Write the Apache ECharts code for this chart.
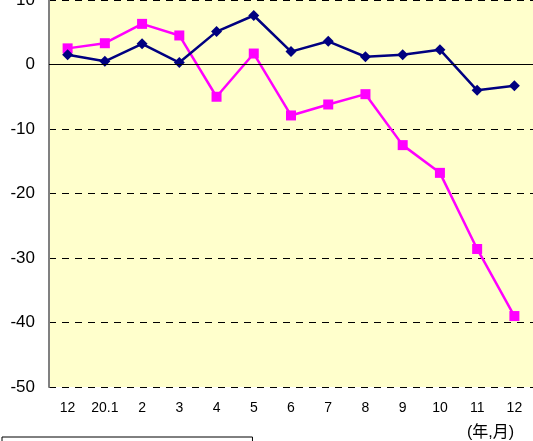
<!DOCTYPE html>
<html><head><meta charset="utf-8">
<script src="https://cdn.jsdelivr.net/npm/echarts@6/dist/echarts.min.js"></script>
<style>html,body{margin:0;padding:0;background:#fff}#c{width:533px;height:441px}</style>
</head><body><div id="c"></div>
<script>
const categories = ['12','20.1','2','3','4','5','6','7','8','9','10','11','12'];
const seriesNavy = [1.5, 0.5, 3.2, 0.3, 5.1, 7.6, 2.0, 3.6, 1.2, 1.5, 2.3, -4.0, -3.3];
const seriesMagenta = [2.5, 3.3, 6.3, 4.5, -5.0, 1.7, -7.9, -6.2, -4.6, -12.5, -16.8, -28.6, -39.0];
const yTicks = {min: -50, max: 10, interval: 10};

const chart = echarts.init(document.getElementById('c'), null, {renderer: 'canvas'});
chart.setOption({
  animation: false,
  backgroundColor: '#ffffff',
  textStyle: {fontFamily: 'Liberation Sans, Arial, sans-serif'},
  title: {
    text: '(年,月)', left: 462, top: 420,
    textStyle: {fontSize: 16, fontWeight: 'normal', color: '#000', fontFamily: 'Liberation Sans, Noto Sans CJK JP, sans-serif'}
  },
  legend: {
    left: 2, top: 437, orient: 'horizontal', padding: [8, 46, 8, 46],
    borderColor: '#000', borderWidth: 1, itemGap: 30,
    textStyle: {fontSize: 13, color: '#000'},
    data: ['系列1', '系列2']
  },
  grid: {
    left: 49, top: 0, right: 0, bottom: 54,
    outerBoundsMode: 'none', containLabel: false,
    show: true, backgroundColor: '#FFFFCC', borderWidth: 0
  },
  xAxis: {
    type: 'category', data: categories, boundaryGap: true,
    axisLine: {show: false}, axisTick: {show: false},
    axisLabel: {fontSize: 14, color: '#000', margin: 14, interval: 0}
  },
  yAxis: {
    type: 'value', min: yTicks.min, max: yTicks.max, interval: yTicks.interval,
    axisLine: {show: true, lineStyle: {color: '#808080', width: 2}},
    axisTick: {show: false},
    axisLabel: {fontSize: 17, color: '#000', margin: 14},
    splitLine: {show: true, lineStyle: {color: '#000', width: 1, type: [7, 6]}}
  },
  series: [
    {
      name: '系列1', type: 'line', data: seriesNavy,
      symbol: 'diamond', symbolSize: 11,
      lineStyle: {color: '#000080', width: 2.5}, itemStyle: {color: '#000080'},
      markLine: {
        silent: true, symbol: 'none', label: {show: false},
        lineStyle: {color: '#000', width: 1, type: 'solid'},
        data: [{yAxis: 0}]
      },
      z: 3
    },
    {
      name: '系列2', type: 'line', data: seriesMagenta,
      symbol: 'rect', symbolSize: 10,
      lineStyle: {color: '#FF00FF', width: 2.5}, itemStyle: {color: '#FF00FF'},
      z: 2
    }
  ]
});
</script></body></html>
